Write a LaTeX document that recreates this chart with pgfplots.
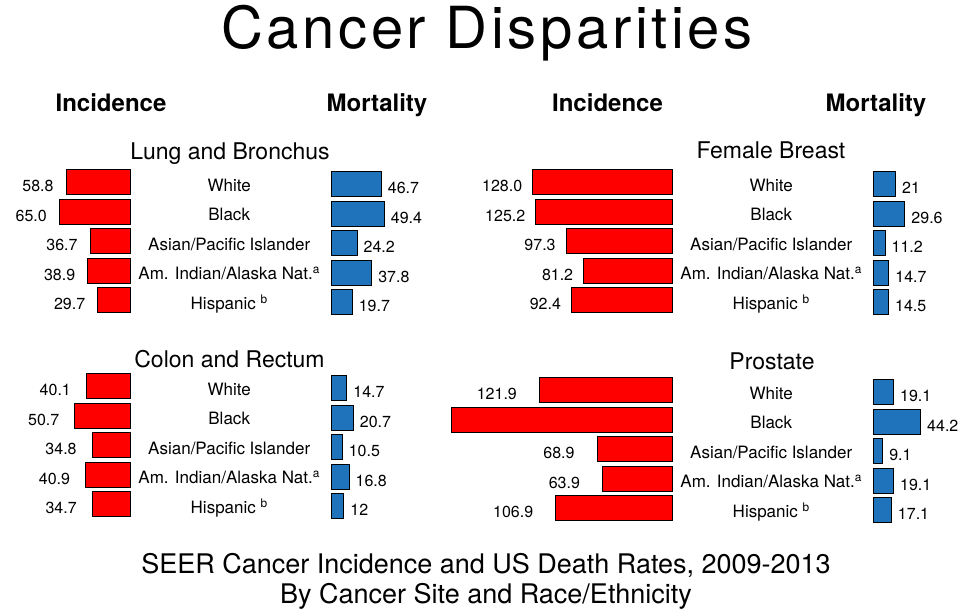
\documentclass[border=0pt]{standalone}
\usepackage{fontspec}
\setmainfont{TeX Gyre Heros}
\newfontfamily\titlefont[LetterSpace=6.2]{TeX Gyre Heros}
\usepackage{pgfplots}
\pgfplotsset{compat=1.18}
\definecolor{cred}{RGB}{255,0,0}
\definecolor{cblue}{RGB}{30,115,186}
\pgfplotsset{
  panel/.style={scale only axis, height=148pt, ymin=0.5, ymax=5.5, y dir=reverse,
    xbar, bar width=25pt, bar shift=0pt, axis line style={draw=none},
    tick style={draw=none}, xtick=\empty, ytick=\empty, clip=false,
    enlargelimits=false, xmin=0},
  redbars/.style={panel, x dir=reverse,
    every node near coord/.append style={anchor=base east, inner sep=0pt,
      xshift=-#1, yshift=-9.5pt, font=\fontsize{16}{19}\selectfont, text=black}},
  bluebars/.style={panel, xmax=50, width=54pt, ytick={1,2,3,4,5},
    yticklabels={White, Black, Asian/Pacific Islander,
      Am. Indian/Alaska Nat.\textsuperscript{a}, Hispanic \textsuperscript{b}},
    yticklabel style={anchor=base, xshift=-97.5pt, yshift=-7pt,
      font=\fontsize{17}{20}\selectfont},
    every node near coord/.append style={anchor=base west, inner sep=0pt,
      xshift=6pt, yshift=-9.5pt, font=\fontsize{16}{19}\selectfont, text=black}},
  rstyle/.style={fill=cred, draw=black, line width=1pt},
  bstyle/.style={fill=cblue, draw=black, line width=1pt},
}
\begin{document}
\begin{tikzpicture}
\useasboundingbox (0pt,0pt) rectangle (968pt,611pt);
\fill[white] (0pt,0pt) rectangle (968pt,611pt);

% Title
\node[anchor=base, font={\titlefont\fontsize{58}{60}\selectfont}] at (487pt,562pt) {Cancer Disparities};

% Column headers
\begin{scope}[every node/.style={anchor=base, font=\fontsize{24}{28}\selectfont\bfseries}]
\node at (111pt,499pt) {Incidence};
\node at (377pt,499pt) {Mortality};
\node at (607.5pt,499pt) {Incidence};
\node at (876pt,499pt) {Mortality};
\end{scope}

% Panel titles
\begin{scope}[every node/.style={anchor=base, font=\fontsize{23}{27}\selectfont}]
\node at (230pt,451pt) {Lung and Bronchus};
\node at (771pt,452pt) {Female Breast};
\node at (229.5pt,244pt) {Colon and Rectum};
\node at (772pt,242pt) {Prostate};
\end{scope}

% Footer
\begin{scope}[every node/.style={anchor=base, font=\fontsize{27}{30}\selectfont}]
\node at (486pt,38pt) {SEER Cancer Incidence and US Death Rates, 2009-2013};
\node at (486pt,8pt) {By Cancer Site and Race/Ethnicity};
\end{scope}

% ---- Lung and Bronchus ----
\begin{axis}[redbars=12pt, xmax=119, width=129.5pt, at={(65.25pt,369.8pt)}, anchor=center]
\addplot[rstyle, nodes near coords, point meta=explicit symbolic] coordinates
  {(58.8,1)[58.8] (65.0,2)[65.0] (36.7,3)[36.7] (38.9,4)[38.9] (29.7,5)[29.7]};
\end{axis}
\begin{axis}[bluebars, at={(358pt,367.8pt)}, anchor=center]
\addplot[bstyle, nodes near coords, point meta=explicit symbolic] coordinates
  {(46.7,1)[46.7] (49.4,2)[49.4] (24.2,3)[24.2] (37.8,4)[37.8] (19.7,5)[19.7]};
\end{axis}

% ---- Female Breast ----
\begin{axis}[redbars=10pt, xmax=204, width=222pt, at={(561pt,369.8pt)}, anchor=center]
\addplot[rstyle, nodes near coords, point meta=explicit symbolic] coordinates
  {(128.0,1)[128.0] (125.2,2)[125.2] (97.3,3)[97.3] (81.2,4)[81.2] (92.4,5)[92.4]};
\end{axis}
\begin{axis}[bluebars, at={(900pt,367.8pt)}, anchor=center]
\addplot[bstyle, nodes near coords, point meta=explicit symbolic] coordinates
  {(21,1)[21] (29.6,2)[29.6] (11.2,3)[11.2] (14.7,4)[14.7] (14.5,5)[14.5]};
\end{axis}

% ---- Colon and Rectum ----
\begin{axis}[redbars=15pt, xmax=119, width=129.5pt, at={(65.25pt,165.8pt)}, anchor=center]
\addplot[rstyle, nodes near coords, point meta=explicit symbolic] coordinates
  {(40.1,1)[40.1] (50.7,2)[50.7] (34.8,3)[34.8] (40.9,4)[40.9] (34.7,5)[34.7]};
\end{axis}
\begin{axis}[bluebars, at={(358pt,163.8pt)}, anchor=center]
\addplot[bstyle, nodes near coords, point meta=explicit symbolic] coordinates
  {(14.7,1)[14.7] (20.7,2)[20.7] (10.5,3)[10.5] (16.8,4)[16.8] (12,5)[12]};
\end{axis}

% ---- Prostate ----
\begin{axis}[redbars=22pt, xmax=204, width=222pt, at={(561pt,161.8pt)}, anchor=center]
\addplot[rstyle, nodes near coords, point meta=explicit symbolic] coordinates
  {(121.9,1)[121.9] (68.9,3)[68.9] (63.9,4)[63.9] (106.9,5)[106.9]};
\addplot[rstyle] coordinates {(203,2)};
\end{axis}
\begin{axis}[bluebars, at={(900pt,159.8pt)}, anchor=center]
\addplot[bstyle, nodes near coords, point meta=explicit symbolic] coordinates
  {(19.1,1)[19.1] (44.2,2)[44.2] (9.1,3)[9.1] (19.1,4)[19.1] (17.1,5)[17.1]};
\end{axis}
\end{tikzpicture}
\end{document}
